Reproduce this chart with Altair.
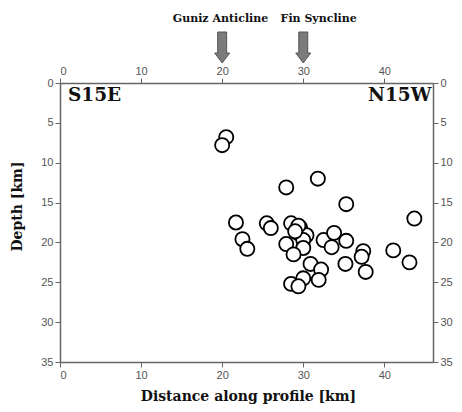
import altair as alt
import pandas as pd

# Earthquake hypocenters: distance along profile (km) and depth (km)
dist = [20.5, 20.0, 27.9, 31.8, 35.3, 43.7, 21.7, 22.5, 23.1, 25.5, 26.0, 28.5,
        29.6, 29.3, 30.4, 30.0, 27.9, 30.0, 28.8, 32.5, 33.8, 33.5, 35.3, 30.9,
        32.2, 31.9, 30.0, 28.5, 29.4, 35.2, 37.4, 37.2, 37.7, 41.1, 43.1, 29.4, 29.0]
depth = [6.8, 7.8, 13.1, 12.0, 15.2, 17.0, 17.5, 19.6, 20.8, 17.6, 18.2, 17.6,
         18.1, 18.8, 19.1, 19.7, 20.2, 20.7, 21.5, 19.7, 18.8, 20.6, 19.8, 22.7,
         23.4, 24.7, 24.5, 25.2, 25.5, 22.7, 21.1, 21.8, 23.7, 21.0, 22.5, 17.9, 18.6]

# Structural markers above the profile
struct_names = ["Guniz Anticline", "Fin Syncline"]
struct_x = [20, 30]
struct_label_x = [19.8, 31.9]

# Orientation labels
corner_labels = ["S15E", "N15W"]

pts = pd.DataFrame({"dist": dist, "depth": depth})
structs = pd.DataFrame({"name": struct_names, "x": struct_x, "lx": struct_label_x})

W, H = 373, 279
xs = alt.Scale(domain=[0, 46], nice=False, zero=False)
ys = alt.Scale(domain=[0, 35], reverse=True, nice=False, zero=False)
xticks = [0, 10, 20, 30, 40]
yticks = [0, 5, 10, 15, 20, 25, 30, 35]

SERIF = "DejaVu Serif"

axis_common = dict(
    labelFont="Liberation Sans", labelFontSize=11, labelColor="#555",
    domainColor="#666", domainWidth=1.5, tickColor="#666", tickSize=5,
    grid=False, labelPadding=2,
)

title_font = dict(titleFont=SERIF, titleFontSize=14,
                  titleFontWeight="bold", titleColor="#111")

bottom_x = alt.X("dist:Q", scale=xs, axis=alt.Axis(
    orient="bottom", values=xticks, title="Distance along profile [km]",
    titleX=188, titleY=38, titleBaseline="alphabetic", titleAlign="center",
    **axis_common, **title_font))
left_y = alt.Y("depth:Q", scale=ys, axis=alt.Axis(
    orient="left", values=yticks, title="Depth [km]",
    titleX=-43, titleY=123, titleAngle=-90, titleBaseline="middle", titleAlign="center",
    **axis_common, **title_font))

points = alt.Chart(pts).mark_point(
    shape="circle", size=200, filled=True, fill="white", fillOpacity=1,
    stroke="black", strokeWidth=1.8, opacity=1
).encode(x=bottom_x, y=left_y)

top_axis = alt.Chart(pts).mark_point(opacity=0).encode(
    x=alt.X("dist:Q", scale=xs, axis=alt.Axis(orient="top", values=xticks,
                                              title=None, **axis_common)),
    y=alt.Y("depth:Q", scale=ys, axis=alt.Axis(orient="right", values=yticks,
                                               title=None, **axis_common)),
)

ARROW = "M-0.29,-1L0.29,-1L0.29,0.355L0.484,0.355L0,1L-0.484,0.355L-0.29,0.355Z"
arrows = alt.Chart(structs).mark_point(
    shape=ARROW, filled=True, fill="#7b7b7b", stroke="#555", strokeWidth=1,
    size=961, opacity=1).encode(x=alt.X("x:Q", scale=xs, axis=None), y=alt.value(-35.5))
labels = alt.Chart(structs).mark_text(
    font=SERIF, fontSize=11, fontWeight="bold", color="#111",
    align="center", baseline="alphabetic").encode(
    x=alt.X("lx:Q", scale=xs, axis=None), y=alt.value(-61), text="name:N")

corner = alt.Chart(pd.DataFrame({"t": corner_labels, "x": [0, 46]}))
s_lab = corner.transform_filter(alt.datum.t == "S15E").mark_text(
    font=SERIF, fontSize=18.5, fontWeight="bold", color="#111",
    align="left", baseline="alphabetic", dx=8).encode(
    x=alt.X("x:Q", scale=xs, axis=None), y=alt.value(18), text="t:N")
n_lab = corner.transform_filter(alt.datum.t == "N15W").mark_text(
    font=SERIF, fontSize=18.5, fontWeight="bold", color="#111",
    align="right", baseline="alphabetic", dx=-1.5).encode(
    x=alt.X("x:Q", scale=xs, axis=None), y=alt.value(18), text="t:N")

chart = alt.layer(points, top_axis, arrows, labels, s_lab, n_lab).resolve_axis(
    x="independent", y="independent"
).properties(
    width=W, height=H,
    autosize=alt.AutoSizeParams(type="none"),
    padding={"left": 52, "top": 75, "right": 21, "bottom": 42},
).configure_view(stroke=None).configure_axis(grid=False)

chart.save("out.html", embed_options={"renderer": "svg", "actions": False})
